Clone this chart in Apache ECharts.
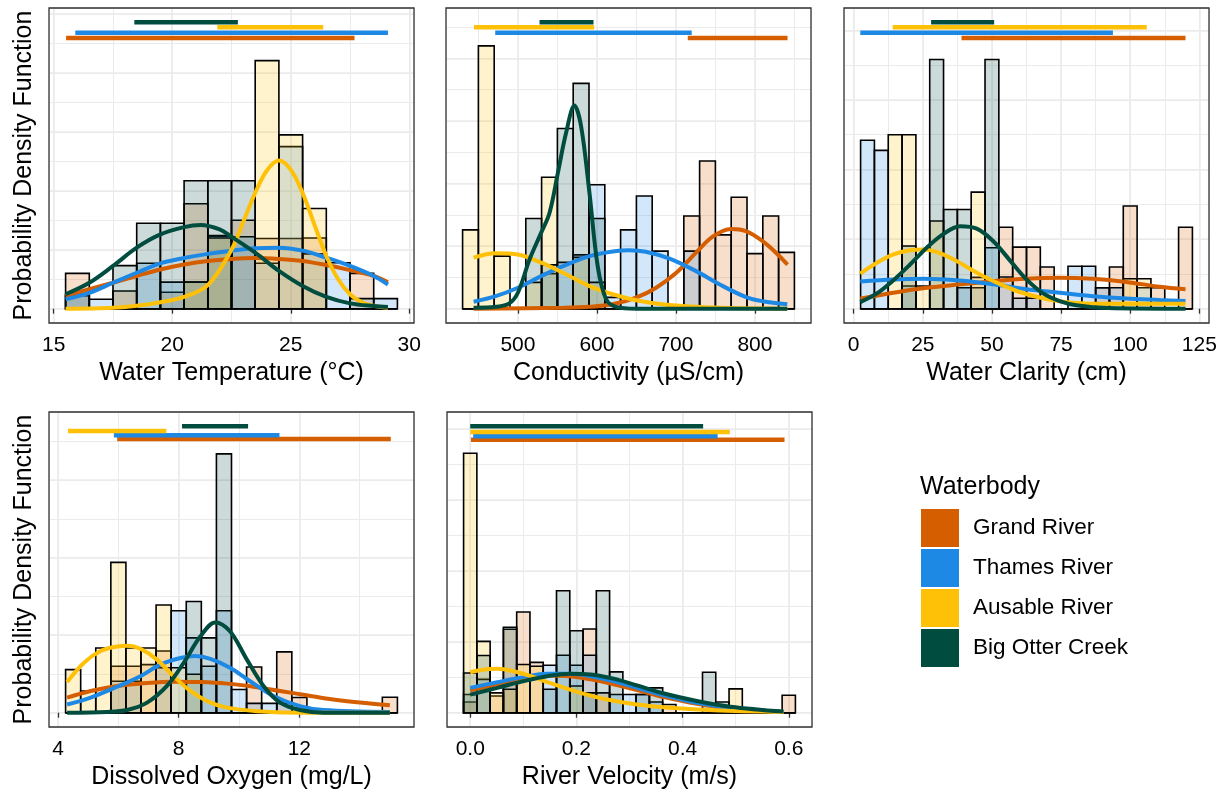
<!DOCTYPE html>
<html>
<head>
<meta charset="utf-8">
<script src="https://cdn.jsdelivr.net/npm/echarts@6/dist/echarts.min.js"></script>
<style>
html, body { margin: 0; padding: 0; background: #fff; }
#chart { width: 1228px; height: 793px; }
</style>
</head>
<body>
<div id="chart"></div>
<script>
const FONT = "'Liberation Sans', Arial, sans-serif";

const groups = ['Grand River', 'Thames River', 'Ausable River', 'Big Otter Creek'];
const groupColors = ['#D55E00', '#1E88E5', '#FFC107', '#004D40'];

// ---- Water temperature (°C) ----
const tempBins = [16, 17, 18, 19, 20, 21, 22, 23, 24, 25, 26, 27, 28, 29];
const tempHistGrand   = [0.060, 0, 0.030, 0, 0.028, 0.178, 0.123, 0.150, 0.119, 0.119, 0.120, 0, 0.060, 0];
const tempHistThames  = [0.022, 0.016, 0, 0.077, 0.045, 0.045, 0.124, 0.122, 0.077, 0.275, 0.093, 0.078, 0.017, 0.017];
const tempHistAusable = [0, 0, 0, 0, 0, 0.045, 0.120, 0, 0.421, 0.295, 0.170, 0, 0, 0];
const tempHistOtter   = [0.025, 0, 0.073, 0.145, 0.145, 0.217, 0.217, 0.217, 0, 0, 0, 0, 0, 0];
const tempDensGrand = [[15.5,.0215],[16.5,.033],[17.5,.044],[18.5,.0555],[19.5,.0665],[20.5,.075],[21.5,.081],[22.5,.0845],[23.5,.086],[24.5,.0845],[25.5,.081],[26.5,.074],[27.5,.0655],[28.5,.0555],[29.1,.045]];
const tempDensThames = [[15.5,.016],[16.5,.027],[17.5,.044],[18.5,.061],[19.5,.077],[20.5,.086],[21.5,.093],[22.5,.0985],[23.5,.1025],[24.5,.1035],[25.5,.0985],[26.5,.0865],[27.5,.0725],[28.5,.0555],[29.1,.041]];
const tempDensAusable = [[15.5,0],[16.5,.0003],[17.5,.0015],[18.5,.005],[19.5,.011],[20.5,.02],[21.5,.04],[22.5,.1],[23,.1475],[23.5,.1965],[24,.235],[24.5,.2515],[25,.236],[25.5,.1965],[26,.1425],[26.5,.0895],[27,.05],[27.5,.0245],[28,.011],[28.5,.005],[29.1,.0015]];
const tempDensOtter = [[15.5,.0245],[16.5,.044],[17.5,.0725],[18.5,.1035],[19.5,.126],[20.5,.1385],[21.2,.142],[22,.1345],[22.5,.122],[23.5,.095],[24.5,.064],[25.5,.0385],[26.5,.02],[27.5,.009],[28.5,.0045],[29.1,.003]];
const tempRanges = [[15.52, 27.69], [15.91, 29.10], [21.9, 26.37], [18.40, 22.77]];
const tempRangeY = [0.4595, 0.4685, 0.4775, 0.486];
const tempTicks = [15, 20, 25, 30];
const tempTickLabels = ['15', '20', '25', '30'];

// ---- Conductivity (µS/cm) ----
const condBins = [440, 460, 480, 500, 520, 540, 560, 580, 600, 620, 640, 660, 680, 700, 720, 740, 760, 780, 800, 820, 840];
const condHistGrand   = [0, 0, 0, 0, 0, 0, 0, 0, 0, 0, 0, 0, 0, 0, 0.0074, 0.0118, 0.0059, 0.0089, 0.0044, 0.0074, 0.0045];
const condHistThames  = [0, 0, 0, 0, 0, 0.0028, 0.0037, 0.0043, 0.0099, 0.0009, 0.0063, 0.0090, 0.0046, 0, 0.0046, 0, 0, 0, 0, 0, 0];
const condHistAusable = [0.0063, 0.0210, 0.0042, 0, 0.0021, 0.0105, 0, 0.0041, 0.0021, 0, 0, 0, 0, 0, 0, 0, 0, 0, 0, 0, 0];
const condHistOtter   = [0, 0, 0, 0, 0.0072, 0.0035, 0.0144, 0.0180, 0.0072, 0, 0, 0, 0, 0, 0, 0, 0, 0, 0, 0, 0];
const condDensGrand = [[444,0],[557,.00008],[590.6,.00015],[620,.00035],[649.6,.000875],[675,.001675],[700.5,.002875],[725.5,.004475],[746.5,.00575],[769.7,.006375],[788.7,.0062],[809.7,.0054],[826.6,.004475],[841.3,.003525]];
const condDensThames = [[444,.00055],[472,.001],[500,.001675],[529.5,.0026],[557,.0034],[590.6,.0042],[620,.004575],[641,.004675],[662,.00455],[692,.004],[725.5,.003],[755,.00195],[788.7,.000925],[809.7,.0006],[841,.00035]];
const condDensAusable = [[444,.004075],[472,.004425],[500,.004325],[529.5,.003675],[557,.002875],[590.6,.0018],[620,.00115],[649.6,.000675],[683,.00035],[725,.00015],[768,.00005],[841,0]];
const condDensOtter = [[444,.000075],[472,.00015],[489,.000425],[500,.001275],[514.7,.003925],[529.5,.006075],[540,.00765],[550.6,.01085],[561,.01405],[571.6,.016225],[580,.014575],[590.6,.00925],[601,.0034],[611.7,.00075],[624,.00015],[650,0],[841,0]];
const condRanges = [[715, 841.3], [471.3, 720], [444.4, 596.5], [527.4, 595.7]];
const condRangeY = [0.02163, 0.02205, 0.02248, 0.02288];
const condTicks = [500, 600, 700, 800];
const condTickLabels = ['500', '600', '700', '800'];

// ---- Water clarity (cm) ----
const clarBins = [5, 10, 15, 20, 25, 30, 35, 40, 45, 50, 55, 60, 65, 70, 75, 80, 85, 90, 95, 100, 105, 110, 115, 120];
const clarHistGrand   = [0, 0, 0, 0, 0, 0, 0, 0, 0.009, 0, 0.0234, 0.0177, 0.0177, 0.012, 0, 0, 0, 0.006, 0.012, 0.0295, 0, 0.006, 0, 0.0234];
const clarHistThames  = [0.0484, 0.0455, 0, 0.0065, 0, 0, 0, 0.006, 0.006, 0.0175, 0.0091, 0.003, 0.003, 0, 0, 0.0122, 0.0122, 0.006, 0.006, 0, 0.006, 0, 0, 0];
const clarHistAusable = [0, 0, 0.050, 0.050, 0.0065, 0.0252, 0, 0, 0.0335, 0, 0, 0, 0, 0, 0, 0, 0, 0, 0, 0.0086, 0.0086, 0, 0, 0];
const clarHistOtter   = [0, 0, 0, 0.018, 0, 0.0716, 0.0285, 0.0285, 0, 0.0716, 0, 0, 0, 0, 0, 0, 0, 0, 0, 0, 0, 0, 0, 0];
const clarDensGrand = [[2.4,.0029],[14.4,.0046],[26.4,.006],[38.5,.007],[50.5,.0079],[62.5,.0086],[74.5,.0089],[86.5,.0086],[98.6,.0077],[110.6,.0063],[120,.0056]];
const clarDensThames = [[2.4,.0078],[14.4,.0084],[25.2,.0086],[38.5,.0081],[50.5,.007],[62.5,.0056],[74.5,.0046],[86.5,.0036],[98.6,.0029],[110.6,.0025],[120,.0022]];
const clarDensAusable = [[2.4,.0101],[8.4,.0132],[14.4,.0156],[20.4,.0168],[25.2,.017],[30,.0163],[36,.0142],[42,.0115],[48,.0089],[54,.0067],[60,.0048],[68.5,.003],[78,.0018],[90,.0014],[104.6,.0014],[120,.0014]];
const clarDensOtter = [[2.4,.0019],[8.4,.0044],[14.4,.0082],[20.4,.0127],[26.4,.0175],[32.5,.0215],[38.5,.0237],[44.5,.023],[50.5,.0194],[56.5,.0139],[62.5,.0084],[68.5,.0044],[74.5,.0022],[80.5,.001],[92,.0002],[120,0]];
const clarRanges = [[39, 120], [2.4, 93.75], [14.1, 106], [28, 50.8]];
const clarRangeY = [0.0778, 0.0793, 0.0809, 0.0823];
const clarTicks = [0, 25, 50, 75, 100, 125];
const clarTickLabels = ['0', '25', '50', '75', '100', '125'];

// ---- Dissolved oxygen (mg/L) ----
const doBins = [4.5, 5, 5.5, 6, 6.5, 7, 7.5, 8, 8.5, 9, 9.5, 10, 10.5, 11, 11.5, 12, 12.5, 13, 13.5, 14, 14.5, 15];
const doHistGrand   = [0, 0, 0, 0.12, 0.12, 0.124, 0.159, 0, 0, 0, 0, 0, 0.118, 0, 0.157, 0.039, 0, 0, 0, 0, 0, 0.040];
const doHistThames  = [0, 0, 0, 0.081, 0.081, 0, 0.116, 0.263, 0.193, 0.12, 0.263, 0.060, 0.024, 0.024, 0.024, 0, 0, 0, 0, 0, 0, 0];
const doHistAusable = [0.111, 0.056, 0.167, 0.388, 0.167, 0.167, 0.278, 0.116, 0.099, 0, 0, 0, 0, 0, 0, 0, 0, 0, 0, 0, 0, 0];
const doHistOtter   = [0, 0, 0, 0, 0, 0, 0, 0, 0.287, 0.193, 0.668, 0, 0, 0, 0, 0, 0, 0, 0, 0, 0, 0];
const doDensGrand = [[4.3,.039],[5.08,.056],[5.96,.069],[6.73,.075],[7.83,.08],[8.72,.079],[9.6,.075],[10.48,.067],[11.36,.056],[12.24,.045],[13.12,.034],[14,.026],[15,.019]];
const doDensThames = [[4.3,.021],[5.08,.039],[5.96,.067],[6.73,.094],[7.39,.124],[8.06,.141],[8.55,.146],[9.05,.139],[9.7,.116],[10.37,.081],[11.14,.043],[12.02,.017],[12.8,.007],[15,.002]];
const doDensAusable = [[4.3,.079],[4.86,.129],[5.41,.159],[5.96,.171],[6.31,.173],[6.73,.165],[7.28,.137],[7.83,.094],[8.39,.056],[8.94,.03],[9.6,.013],[10.6,.004],[12.2,0],[15,0]];
const doDensOtter = [[4.3,0],[5.63,.002],[6.29,.007],[6.95,.026],[7.61,.069],[8.17,.129],[8.72,.197],[9.21,.233],[9.7,.21],[10.26,.137],[10.81,.069],[11.36,.026],[12.02,.007],[12.8,0],[15,0]];
const doRanges = [[5.96, 15.03], [5.85, 11.34], [4.33, 7.59], [8.11, 10.3]];
const doRangeY = [0.706, 0.716, 0.727, 0.739];
const doTicks = [4, 8, 12];
const doTickLabels = ['4', '8', '12'];

// ---- River velocity (m/s) ----
const velBins = [0, 0.025, 0.05, 0.075, 0.1, 0.125, 0.15, 0.175, 0.2, 0.225, 0.25, 0.275, 0.3, 0.325, 0.35, 0.375, 0.4, 0.425, 0.45, 0.475, 0.5, 0.525, 0.55, 0.575, 0.6];
const velHistGrand   = [0.75, 0, 1.18, 5.88, 7.1, 3.55, 0, 0, 0, 5.9, 1.4, 0, 0, 0, 0, 0.58, 0, 0, 0, 0, 0, 0, 0, 0, 1.23];
const velHistThames  = [1.28, 2.35, 0, 0, 0, 0, 3.35, 4.05, 3.35, 4.05, 0, 1.28, 1.28, 1.28, 0.75, 0, 0, 0, 0, 0, 0, 0, 0, 0, 0];
const velHistAusable = [18.3, 5.03, 1.4, 1.65, 3.4, 3.28, 0, 0, 1.88, 0, 0, 0, 0, 0, 0, 0, 0, 0, 0, 0, 1.68, 0, 0, 0, 0];
const velHistOtter   = [2.8, 4.03, 0, 6.03, 0, 0, 1.65, 8.6, 5.78, 1.4, 8.6, 2.88, 0, 1.28, 1.75, 0, 0, 0, 2.85, 0.75, 0, 0, 0, 0, 0];
const velDensGrand = [[0,1.575],[0.051,2.0],[0.101,2.4],[0.145,2.625],[0.189,2.575],[0.227,2.35],[0.27,2.0],[0.314,1.6],[0.365,1.1],[0.427,0.625],[0.49,0.3],[0.59,0.05]];
const velDensThames = [[0,1.75],[0.051,2.15],[0.101,2.525],[0.145,2.75],[0.189,2.75],[0.227,2.575],[0.27,2.225],[0.314,1.75],[0.365,1.225],[0.427,0.7],[0.49,0.35],[0.59,0.05]];
const velDensAusable = [[0,2.85],[0.026,3.05],[0.051,3.1],[0.082,2.925],[0.114,2.575],[0.158,2.0],[0.208,1.4],[0.258,0.925],[0.314,0.575],[0.377,0.35],[0.459,0.175],[0.59,0.05]];
const velDensOtter = [[0,1.275],[0.051,1.75],[0.101,2.225],[0.145,2.575],[0.189,2.75],[0.227,2.7],[0.27,2.4],[0.314,1.925],[0.365,1.35],[0.427,0.825],[0.49,0.425],[0.59,0.075]];
const velRanges = [[0.0013, 0.592], [0.0056, 0.466], [0, 0.489], [0, 0.4387]];
const velRangeY = [19.25, 19.5, 19.8, 20.2];
const velTicks = [0, 0.2, 0.4, 0.6];
const velTickLabels = ['0.0', '0.2', '0.4', '0.6'];

const yTitle = 'Probability Density Function';

// Panel layout: box = [left, top, width, height] in px
const panels = [
  { box: [49, 8, 365, 315], bins: tempBins, binWidth: 1, hist: [tempHistGrand, tempHistThames, tempHistAusable, tempHistOtter],
    dens: [tempDensGrand, tempDensThames, tempDensAusable, tempDensOtter], ranges: tempRanges, rangeY: tempRangeY,
    ticks: tempTicks, tickLabels: tempTickLabels, yStep: 0.1, title: 'Water Temperature (°C)', yName: true },
  { box: [446, 8, 365, 315], bins: condBins, binWidth: 20, hist: [condHistGrand, condHistThames, condHistAusable, condHistOtter],
    dens: [condDensGrand, condDensThames, condDensAusable, condDensOtter], ranges: condRanges, rangeY: condRangeY,
    ticks: condTicks, tickLabels: condTickLabels, yStep: 0.005, title: 'Conductivity (µS/cm)', yName: false },
  { box: [844, 8, 365, 315], bins: clarBins, binWidth: 5, hist: [clarHistGrand, clarHistThames, clarHistAusable, clarHistOtter],
    dens: [clarDensGrand, clarDensThames, clarDensAusable, clarDensOtter], ranges: clarRanges, rangeY: clarRangeY,
    ticks: clarTicks, tickLabels: clarTickLabels, yStep: 0.02, title: 'Water Clarity (cm)', yName: false },
  { box: [49, 412, 365, 315], bins: doBins, binWidth: 0.5, hist: [doHistGrand, doHistThames, doHistAusable, doHistOtter],
    dens: [doDensGrand, doDensThames, doDensAusable, doDensOtter], ranges: doRanges, rangeY: doRangeY,
    ticks: doTicks, tickLabels: doTickLabels, yStep: 0.2, title: 'Dissolved Oxygen (mg/L)', yName: true },
  { box: [447, 412, 365, 315], bins: velBins, binWidth: 0.025, hist: [velHistGrand, velHistThames, velHistAusable, velHistOtter],
    dens: [velDensGrand, velDensThames, velDensAusable, velDensOtter], ranges: velRanges, rangeY: velRangeY,
    ticks: velTicks, tickLabels: velTickLabels, yStep: 5, title: 'River Velocity (m/s)', yName: false }
];

function rgba(hex, a) {
  const n = parseInt(hex.slice(1), 16);
  return 'rgba(' + ((n >> 16) & 255) + ',' + ((n >> 8) & 255) + ',' + (n & 255) + ',' + a + ')';
}

const GRID_COLOR = '#EBEBEB';

const option = {
  animation: false,
  backgroundColor: '#ffffff',
  textStyle: { fontFamily: FONT },
  title: {
    text: 'Waterbody', left: 920, top: 475, padding: 0,
    textStyle: { fontFamily: FONT, fontSize: 25, fontWeight: 'normal', color: '#000' }
  },
  legend: {
    data: groups.map((g, i) => ({ name: g, icon: 'rect', itemStyle: { color: groupColors[i], borderWidth: 0 } })),
    orient: 'vertical', left: 921, top: 509, padding: 0,
    itemWidth: 38, itemHeight: 38, itemGap: 2, selectedMode: false,
    textStyle: { fontFamily: FONT, fontSize: 22.5, color: '#000', padding: [0, 0, 0, 9] }
  },
  grid: [], xAxis: [], yAxis: [], series: []
};

panels.forEach((p, i) => {
  const [left, top, width, height] = p.box;
  // panel frame sits above the grid lines and the marks
  option.grid.push({ left, top, width, height, show: true, z: 10, borderColor: '#333', borderWidth: 1.3, backgroundColor: 'transparent' });

  const lo = p.bins[0] - p.binWidth / 2;
  const hi = p.bins[p.bins.length - 1] + p.binWidth / 2;
  const pad = 0.05 * (hi - lo);
  const xMin = lo - pad, xMax = hi + pad;
  const yTop = Math.max(...p.rangeY);
  const yMin = -0.05 * yTop, yMax = 1.05 * yTop;
  const xStep = p.ticks[1] - p.ticks[0];

  const labelFor = v => {
    const k = p.ticks.findIndex(t => Math.abs(t - v) < 1e-9);
    return k >= 0 ? p.tickLabels[k] : '';
  };

  const xi = option.xAxis.length;
  option.xAxis.push({
    gridIndex: i, type: 'value', min: xMin, max: xMax, minInterval: xStep, maxInterval: xStep, position: 'bottom',
    axisLine: { show: false },
    axisTick: { show: true, length: 5, lineStyle: { color: '#333', width: 1.3 }, customValues: p.ticks },
    axisLabel: { customValues: p.ticks, formatter: labelFor, fontSize: 21, color: '#000', margin: 12, fontFamily: FONT },
    splitLine: { show: true, lineStyle: { color: GRID_COLOR, width: 1.6 } },
    name: p.title, nameLocation: 'middle', nameGap: 38,
    nameTextStyle: { fontSize: 25, color: '#000', fontFamily: FONT }
  });
  option.xAxis.push({
    gridIndex: i, type: 'value', min: xMin, max: xMax, minInterval: xStep / 2, maxInterval: xStep / 2, position: 'top',
    axisLine: { show: false }, axisTick: { show: false }, axisLabel: { show: false },
    splitLine: { show: true, lineStyle: { color: GRID_COLOR, width: 1 } }
  });

  const yi = option.yAxis.length;
  const yMajor = {
    gridIndex: i, type: 'value', min: yMin, max: yMax, minInterval: p.yStep, maxInterval: p.yStep, position: 'left',
    axisLine: { show: false }, axisTick: { show: false }, axisLabel: { show: false },
    splitLine: { show: true, lineStyle: { color: GRID_COLOR, width: 1.6 } }
  };
  if (p.yName) {
    Object.assign(yMajor, {
      name: yTitle, nameLocation: 'middle', nameGap: 12,
      nameTextStyle: { fontSize: 25, color: '#000', fontFamily: FONT }
    });
  }
  option.yAxis.push(yMajor);
  option.yAxis.push({
    gridIndex: i, type: 'value', min: yMin, max: yMax, minInterval: p.yStep / 2, maxInterval: p.yStep / 2, position: 'right',
    axisLine: { show: false }, axisTick: { show: false }, axisLabel: { show: false },
    splitLine: { show: true, lineStyle: { color: GRID_COLOR, width: 1 } }
  });

  // Overlapping histograms, one layer per waterbody
  groups.forEach((g, k) => {
    const w = p.binWidth;
    const f = rgba(groupColors[k], 0.2);
    option.series.push({
      type: 'custom', name: g, xAxisIndex: xi, yAxisIndex: yi, z: 2 + k * 0.01, silent: true,
      encode: { x: 0, y: 1 },
      data: p.bins.map((c, j) => [c, p.hist[k][j]]),
      renderItem: (params, api) => {
        const c = api.value(0), h = api.value(1);
        const a = api.coord([c - w / 2, h]);
        const b = api.coord([c + w / 2, 0]);
        return {
          type: 'rect',
          shape: { x: a[0], y: a[1], width: b[0] - a[0], height: b[1] - a[1] },
          style: { fill: f, stroke: '#000', lineWidth: 1.6 }
        };
      }
    });
  });

  // Density curves
  groups.forEach((g, k) => {
    option.series.push({
      type: 'line', name: g, xAxisIndex: xi, yAxisIndex: yi, z: 3 + k * 0.01, silent: true,
      data: p.dens[k], smooth: 0.35, showSymbol: false, symbol: 'none',
      lineStyle: { color: groupColors[k], width: 4 }
    });
  });

  // Observed ranges drawn above the histograms
  groups.forEach((g, k) => {
    const y = p.rangeY[k];
    option.series.push({
      type: 'line', name: g, xAxisIndex: xi, yAxisIndex: yi, z: 4 + k * 0.01, silent: true,
      data: [[p.ranges[k][0], y], [p.ranges[k][1], y]], showSymbol: false, symbol: 'none',
      lineStyle: { color: groupColors[k], width: 4.5, cap: 'butt' }
    });
  });
});

const chart = echarts.init(document.getElementById('chart'), null, { renderer: 'canvas' });
chart.setOption(option);
</script>
</body>
</html>
